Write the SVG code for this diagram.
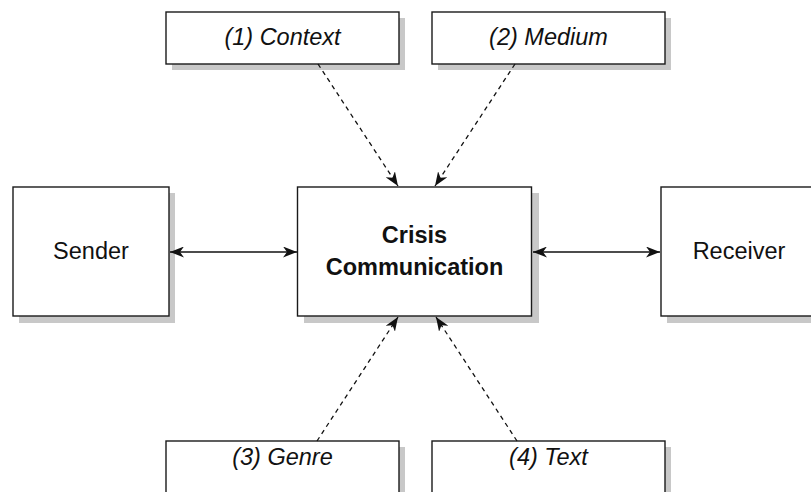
<svg xmlns="http://www.w3.org/2000/svg" width="811" height="492" viewBox="0 0 811 492">
<style>
.box{fill:#fff;stroke:#1a1a1a;stroke-width:1.4}
.sh{fill:#c8c8c8}
.t{font-family:"Liberation Sans",Arial,sans-serif;font-size:23.5px;fill:#111;text-anchor:middle}
.i{font-style:italic}
.b{font-weight:bold}
.c{stroke:#111;stroke-width:1.3;fill:none}
.d{stroke-dasharray:4.5 4}
</style>
<defs>
<marker id="ah" viewBox="0 0 14 11" refX="14" refY="5.5" markerWidth="14" markerHeight="11" markerUnits="userSpaceOnUse" orient="auto-start-reverse">
<path d="M0,0 L14,5.5 L0,11 L4,5.5 z" fill="#111"/>
</marker>
</defs>
<g id="context">
<rect class="sh" x="172" y="18" width="233" height="52"/>
<rect class="box" x="166" y="12" width="233" height="52"/>
<text class="t i" x="282.5" y="45">(1) Context</text>
</g>
<g id="medium">
<rect class="sh" x="438" y="18" width="233" height="52"/>
<rect class="box" x="432" y="12" width="233" height="52"/>
<text class="t i" x="548.5" y="45">(2) Medium</text>
</g>
<g id="sender">
<rect class="sh" x="19" y="193" width="156" height="130"/>
<rect class="box" x="13" y="187" width="156" height="129"/>
<text class="t" x="91" y="259">Sender</text>
</g>
<g id="crisis">
<rect class="sh" x="304" y="193" width="235" height="130"/>
<rect class="box" x="297.5" y="187" width="234" height="129"/>
<text class="t b" x="414.5" y="243">Crisis</text>
<text class="t b" x="414.5" y="275">Communication</text>
</g>
<g id="receiver">
<rect class="sh" x="667" y="193" width="156" height="130"/>
<rect class="box" x="661" y="187" width="156" height="129"/>
<text class="t" x="739" y="259">Receiver</text>
</g>
<g id="genre">
<rect class="sh" x="172" y="447" width="233" height="60"/>
<rect class="box" x="166" y="441" width="233" height="60"/>
<text class="t i" x="282.5" y="465">(3) Genre</text>
</g>
<g id="text">
<rect class="sh" x="438" y="447" width="233" height="60"/>
<rect class="box" x="432" y="441" width="233" height="60"/>
<text class="t i" x="548.5" y="465">(4) Text</text>
</g>
<g id="connectors">
<line class="c" x1="170" y1="252" x2="297" y2="252" marker-start="url(#ah)" marker-end="url(#ah)"/>
<line class="c" x1="533" y1="252" x2="660" y2="252" marker-start="url(#ah)" marker-end="url(#ah)"/>
<line class="c d" x1="318" y1="64" x2="398" y2="186" marker-end="url(#ah)"/>
<line class="c d" x1="515" y1="64" x2="435" y2="186" marker-end="url(#ah)"/>
<line class="c d" x1="317" y1="441" x2="398" y2="317" marker-end="url(#ah)"/>
<line class="c d" x1="517" y1="441" x2="436" y2="317" marker-end="url(#ah)"/>
</g>
</svg>
